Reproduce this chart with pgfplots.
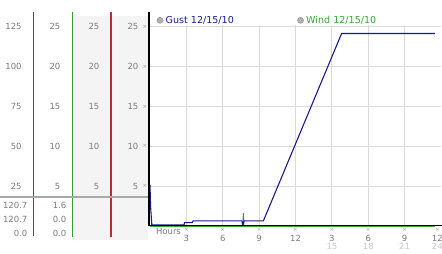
\documentclass[border=0pt]{standalone}
\usepackage{pgfplots}
\pgfplotsset{compat=1.18}
\usepackage{fontspec}
\setmainfont{DejaVu Sans}
\definecolor{lblgray}{HTML}{7A7A7A}
\definecolor{lightlbl}{HTML}{C8C8C8}
\definecolor{panelbg}{HTML}{F4F4F4}
\definecolor{gridc}{HTML}{DADADA}
\definecolor{sepgray}{HTML}{A8A8A8}
\definecolor{gustc}{HTML}{1A1A8C}
\definecolor{windc}{HTML}{33A833}
\definecolor{spikec}{HTML}{2A9A2A}
\definecolor{bluebar}{HTML}{2E50B4}
\definecolor{greenbar}{HTML}{30A030}
\definecolor{redbar}{HTML}{B03030}
\definecolor{markc}{HTML}{9A9A9A}
\newcommand{\lbl}{\fontsize{8.5}{10}\selectfont}
\newcommand{\lgd}{\fontsize{9.6}{11}\selectfont}
\newcommand{\mk}{\fontsize{5.5}{6}\selectfont}
\begin{document}
\begin{tikzpicture}[x=1bp,y=1bp]
\useasboundingbox (0,0) rectangle (442,253);
% left panel backgrounds
\fill[panelbg] (73,13) rectangle (110.5,237);
\fill[panelbg] (111.5,13) rectangle (148.3,237);
% wind axis with grid
\begin{axis}[at={(150bp,27bp)}, anchor=south west, scale only axis,
  width=291bp, height=200.9bp, xmin=0, xmax=24, ymin=0, ymax=25.2,
  axis line style={draw=none}, xtick={3,6,9,12,15,18,21}, ytick={5,10,15,20,25},
  xticklabels={}, yticklabels={}, major tick length=0pt,
  grid=major, major grid style={gridc, line width=1bp}]
\addplot[windc, line width=2bp] coordinates {(0,0) (7.66,0) (23.5,0)};
\addplot[spikec, line width=1bp] coordinates {(7.66,0) (7.7,1.6) (7.74,0)};
\end{axis}
% gust axis
\begin{axis}[at={(150bp,27bp)}, anchor=south west, scale only axis,
  width=291bp, height=200.9bp, xmin=0, xmax=24, ymin=0, ymax=126,
  axis line style={draw=none}, xtick=\empty, ytick=\empty]
\addplot[gustc, line width=1.1bp] coordinates {
 (0,25.7) (0.05,12) (0.15,0.6) (2.8,0.6) (2.85,2.1) (3.5,2.1) (3.55,3.2)
 (7.6,3.2) (7.62,0.6) (7.64,0.6) (7.78,3.2) (9.35,3.2) (15.8,120.7) (23.5,120.7)};
\end{axis}
% axis lines
\draw[black, line width=1.2bp] (150,27.6) -- (442,27.6);
\draw[black, line width=2bp] (149.3,27) -- (149.3,241);
% left panel vertical lines
\draw[bluebar, line width=1.1bp] (33.3,17) -- (33.3,241);
\draw[greenbar, line width=1.1bp] (72.5,16) -- (72.5,241);
\draw[redbar, line width=1.1bp] (111,16) -- (111,241);
% separator
\draw[sepgray, line width=2bp] (0,56) -- (148.3,56);
% left panel labels
\foreach \y/\a/\b in {226.3/125/25, 186.4/100/20, 146.6/75/15, 106.7/50/10, 66.9/25/5}{
  \node[anchor=east, inner sep=0pt, text=lblgray, font=\lbl] at (21.8,\y) {\a};
  \node[anchor=east, inner sep=0pt, text=lblgray, font=\lbl] at (60.5,\y) {\b};
  \node[anchor=east, inner sep=0pt, text=lblgray, font=\lbl] at (99.5,\y) {\b};
  \node[anchor=east, inner sep=0pt, text=lblgray, font=\lbl] at (138.5,\y) {\b};
  \node[inner sep=0pt, text=markc, font=\mk] at (145,\y) {×};
}
% summary rows
\foreach \y/\a/\b in {48/120.7/1.6, 34/120.7/0.0, 20/0.0/0.0}{
  \node[anchor=east, inner sep=0pt, text=lblgray, font=\lbl] at (27.5,\y) {\a};
  \node[anchor=east, inner sep=0pt, text=lblgray, font=\lbl] at (66.5,\y) {\b};
}
% x tick marks and labels
\foreach \x/\t/\s in {186.4/3/, 222.75/6/, 259.1/9/, 295.5/12/, 331.9/3/15, 368.25/6/18, 404.6/9/21, 437.3/12/24}{
  \node[inner sep=0pt, text=markc, font=\mk] at (\x,23.5) {×};
  \node[inner sep=0pt, text=lblgray, font=\lbl] at (\x,15) {\t};
  \node[inner sep=0pt, text=lightlbl, font=\lbl] at (\x,6.5) {\s};
}
\node[inner sep=0pt, text=lblgray, font=\lbl] at (168.5,21.5) {Hours};
% legend
\fill[black!30, draw=black!45, line width=0.5bp] (160,232.7) circle (3bp);
\node[anchor=west, inner sep=0pt, text=gustc, font=\lgd] at (165.5,232.7) {Gust 12/15/10};
\fill[black!30, draw=black!45, line width=0.5bp] (300.5,232.7) circle (3bp);
\node[anchor=west, inner sep=0pt, text=windc, font=\lgd] at (306,232.7) {Wind 12/15/10};
\end{tikzpicture}
\end{document}
